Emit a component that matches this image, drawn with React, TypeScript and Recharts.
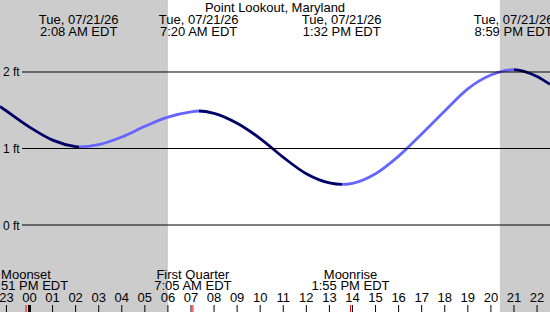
import React from 'react';
import { LineChart, Line, XAxis, YAxis, ReferenceArea } from 'recharts';

// ---- data ----
const title = 'Point Lookout, Maryland';
const dateLabel = 'Tue, 07/21/26';

// tide curve samples (hours from local midnight, feet)
const tideHours = [-1.28, -1, 0, 1, 2, 2.133, 3, 4, 5, 6, 7, 7.333, 8, 9, 10, 11, 12, 13, 13.533, 14, 15, 16, 17, 18, 19, 20, 20.983, 22, 22.56];
const tideFeet = [1.55, 1.49, 1.28, 1.11, 1.025, 1.02, 1.05, 1.15, 1.29, 1.41, 1.48, 1.49, 1.46, 1.33, 1.13, 0.885, 0.67, 0.55, 0.53, 0.545, 0.67, 0.9, 1.19, 1.49, 1.78, 1.96, 2.03, 1.94, 1.84];

// high / low extremes
const extremeHours = [2.133, 7.333, 13.533, 20.983];
const extremeTypes = ['L', 'H', 'L', 'H'];
const extremeTimes = ['2:08 AM EDT', '7:20 AM EDT', '1:32 PM EDT', '8:59 PM EDT'];

// moon events
const moonHours = [-0.15, 7.083, 13.917];
const moonNames = ['Moonset', 'First Quarter', 'Moonrise'];
const moonTimes = ['11:51 PM EDT', '7:05 AM EDT', '1:55 PM EDT'];

// hour ticks and labels
const hourTicks = [-1, 0, 1, 2, 3, 4, 5, 6, 7, 8, 9, 10, 11, 12, 13, 14, 15, 16, 17, 18, 19, 20, 21, 22];
const hourLabels = ['23', '00', '01', '02', '03', '04', '05', '06', '07', '08', '09', '10', '11', '12', '13', '14', '15', '16', '17', '18', '19', '20', '21', '22'];

// sun: night shading
const sunriseHour = 6.0;
const sunsetHour = 20.39;

// feet ticks
const feetTicks = [0, 1, 2];
const feetLabels = ['0 ft', '1 ft', '2 ft'];

// view window
const xDomain: [number, number] = [-1.2787, 22.562];
const yDomain: [number, number] = [-1.137, 2.941];

// ---- build ----
const W = 550;
const H = 312;
const AX = 30;
const FONT = '"Liberation Sans", Arial, sans-serif';
const DARK = '#000066';
const LIGHT = '#6666ff';
const GRAY = '#cccccc';

const data = tideHours.map((t, i) => ({ t, ft: tideFeet[i] }));

// smooth cubic Hermite curve (flat tangents at turning points)
const smoothCurve = (context: any) => {
  let xs: number[] = [];
  let ys: number[] = [];
  return {
    areaStart() {},
    areaEnd() {},
    lineStart() {
      xs = [];
      ys = [];
    },
    point(x: number, y: number) {
      xs.push(+x);
      ys.push(+y);
    },
    lineEnd() {
      const n = xs.length;
      if (!n) return;
      context.moveTo(xs[0], ys[0]);
      if (n === 1) return;
      const sl: number[] = [];
      for (let i = 0; i < n - 1; i++) sl.push((ys[i + 1] - ys[i]) / (xs[i + 1] - xs[i]));
      const m: number[] = new Array(n).fill(0);
      m[0] = sl[0];
      m[n - 1] = sl[n - 2];
      for (let i = 1; i < n - 1; i++) {
        const s0 = sl[i - 1];
        const s1 = sl[i];
        if (s0 * s1 <= 0) m[i] = 0;
        else {
          const h0 = xs[i] - xs[i - 1];
          const h1 = xs[i + 1] - xs[i];
          m[i] = (s0 * h1 + s1 * h0) / (h0 + h1);
        }
      }
      for (let i = 0; i < n - 1; i++) {
        const dx = xs[i + 1] - xs[i];
        context.bezierCurveTo(
          xs[i] + dx / 3,
          ys[i] + (m[i] * dx) / 3,
          xs[i + 1] - dx / 3,
          ys[i + 1] - (m[i + 1] * dx) / 3,
          xs[i + 1],
          ys[i + 1]
        );
      }
    },
  };
};

// gradient stops: falling = dark, rising = light (fractions of the line's x extent)
const tFirst = tideHours[0];
const tLast = tideHours[tideHours.length - 1];
const stops: { off: number; color: string }[] = [];
{
  let prev = 0;
  extremeHours.forEach((e, i) => {
    const off = (e - tFirst) / (tLast - tFirst);
    const color = extremeTypes[i] === 'L' ? DARK : LIGHT;
    stops.push({ off: prev, color });
    stops.push({ off, color });
    prev = off;
  });
  const lastColor = extremeTypes[extremeTypes.length - 1] === 'H' ? DARK : LIGHT;
  stops.push({ off: prev, color: lastColor });
  stops.push({ off: 1, color: lastColor });
}

const allTicks = [...hourTicks, ...moonHours, ...extremeHours];

const txt = (x: number, y: number, s: string, size = 13, anchor: any = 'middle') => (
  <text x={x} y={y} textAnchor={anchor} fontSize={size} fontFamily={FONT} fill="#000">
    {s}
  </text>
);

const XTick = (props: any) => {
  const { x, payload } = props;
  const v = payload.value;
  const hi = hourTicks.indexOf(v);
  if (hi >= 0) {
    return (
      <g>
        {txt(x, 302, hourLabels[hi])}
        <line x1={x} x2={x} y1={305} y2={312} stroke="#000" strokeWidth={v === 0 ? 3 : 1} />
      </g>
    );
  }
  const mi = moonHours.indexOf(v);
  if (mi >= 0) {
    return (
      <g>
        {txt(x, 278.5, moonNames[mi])}
        {txt(x, 290, moonTimes[mi])}
        <line x1={x} x2={x} y1={305} y2={312} stroke="#ff0000" strokeWidth={1} />
      </g>
    );
  }
  const ei = extremeHours.indexOf(v);
  if (ei >= 0) {
    return (
      <g>
        {txt(x, 24, dateLabel)}
        {txt(x, 36, extremeTimes[ei])}
      </g>
    );
  }
  return <g />;
};

const YTick = (props: any) => {
  const { y, payload } = props;
  const i = feetTicks.indexOf(payload.value);
  return (
    <g>
      <line x1={22} x2={W} y1={y} y2={y} stroke="#000" strokeWidth={1} />
      {txt(3, y + 4.5, feetLabels[i], 12, 'start')}
    </g>
  );
};

export default function App() {
  return (
    <div style={{ position: 'fixed', left: 0, top: 0, width: W, height: H, background: '#fff', overflow: 'hidden' }}>
      <LineChart width={W} height={H} data={data} margin={{ top: 0, right: 0, bottom: -AX, left: -AX }}>
        <defs>
          <linearGradient id="tideStroke" x1="0" y1="0" x2="1" y2="0">
            {stops.map((s, i) => (
              <stop key={i} offset={s.off} stopColor={s.color} />
            ))}
          </linearGradient>
        </defs>
        <ReferenceArea x1={xDomain[0]} x2={sunriseHour} fill={GRAY} fillOpacity={1} stroke="none" ifOverflow="hidden" />
        <ReferenceArea x1={sunsetHour} x2={xDomain[1]} fill={GRAY} fillOpacity={1} stroke="none" ifOverflow="hidden" />
        <XAxis
          type="number"
          dataKey="t"
          domain={xDomain}
          allowDataOverflow
          ticks={allTicks}
          interval={0}
          height={AX}
          axisLine={false}
          tickLine={false}
          tick={<XTick />}
        />
        <YAxis
          type="number"
          domain={yDomain}
          allowDataOverflow
          ticks={feetTicks}
          interval={0}
          width={AX}
          axisLine={false}
          tickLine={false}
          tick={<YTick />}
        />
        <Line type={smoothCurve as any} dataKey="ft" stroke="url(#tideStroke)" strokeWidth={2.8} dot={false} isAnimationActive={false} />
        {txt(W / 2, 12, title)}
      </LineChart>
    </div>
  );
}
